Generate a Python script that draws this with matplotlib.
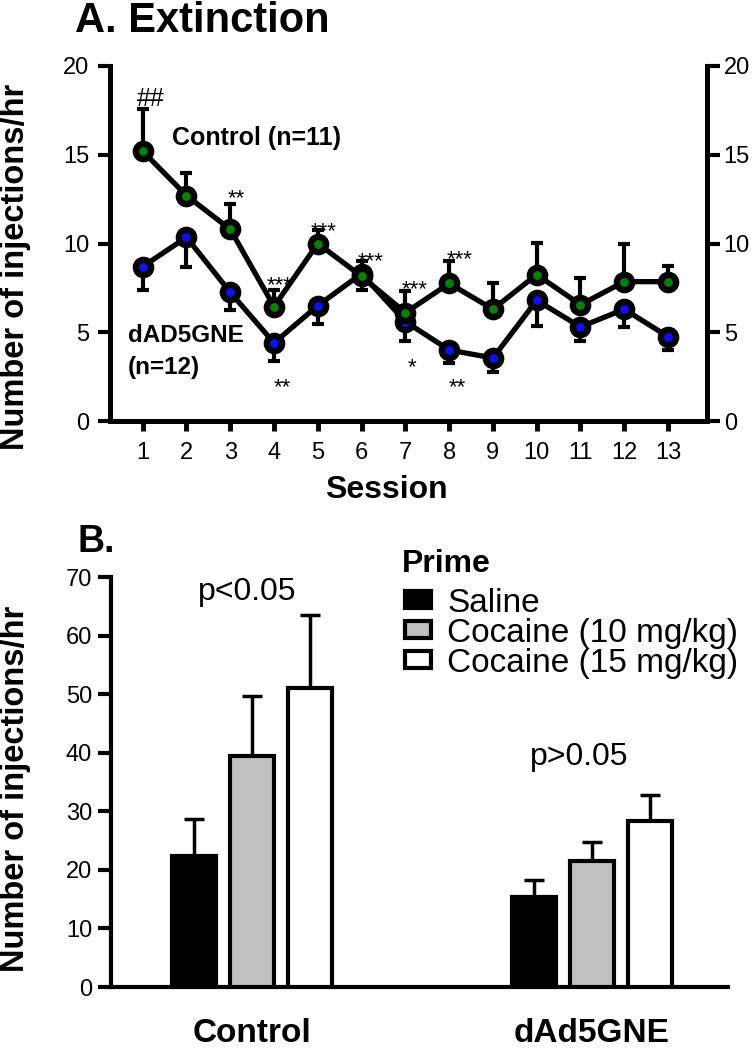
import numpy as np
import matplotlib
matplotlib.use("Agg")
import matplotlib.pyplot as plt
from matplotlib.patches import Rectangle

plt.rcParams['font.family'] = ['Liberation Sans', 'DejaVu Sans']

# ---- Panel A data: extinction sessions ----
sessions = list(range(1, 14))
control_mean = [15.2, 12.7, 10.8, 6.45, 10.0, 8.15, 6.1, 7.75, 6.3, 8.25, 6.55, 7.85, 7.85]
control_sem = [2.4, 1.3, 1.45, 0.95, 0.75, 0.85, 1.25, 1.25, 1.45, 1.8, 1.5, 2.15, 0.9]
dad_mean = [8.7, 10.35, 7.25, 4.4, 6.5, 8.3, 5.6, 4.0, 3.55, 6.8, 5.3, 6.3, 4.75]
dad_sem = [1.3, 1.7, 1.0, 1.0, 1.05, 0.9, 1.1, 0.75, 0.8, 1.45, 0.8, 1.0, 0.75]

# significance marks (session position, y value, text)
star_x = [3.15, 4.13, 5.13, 6.2, 7.22, 8.24, 7.16, 8.19, 4.2]
star_y = [12.19, 7.32, 10.37, 8.68, 7.06, 8.77, 2.7, 1.58, 1.54]
star_txt = ['**', '***', '***', '***', '***', '***', '*', '**', '**']

# ---- Panel B data: reinstatement ----
groups = ['Control', 'dAd5GNE']
primes = ['Saline', 'Cocaine (10 mg/kg)', 'Cocaine (15 mg/kg)']
saline_mean = [22.4, 15.4]
saline_sem = [6.2, 2.9]
coc10_mean = [39.5, 21.5]
coc10_sem = [10.1, 3.3]
coc15_mean = [51.0, 28.4]
coc15_sem = [12.5, 4.3]
p_labels = ['p<0.05', 'p>0.05']
p_y = [66.1, 37.85]

W, H = 753, 1050
fig = plt.figure(figsize=(W / 100, H / 100), dpi=100)


def rect(x0, y0, x1, y1):
    # pixel box -> figure fraction
    return [x0 / W, 1 - y1 / H, (x1 - x0) / W, (y1 - y0) / H]


# ================= Panel A =================
ax = fig.add_axes(rect(110, 66, 707, 421))
lw_sp = 3.6
ax.errorbar(sessions, dad_mean, yerr=[dad_sem, [0] * 13], fmt='none',
            ecolor='black', elinewidth=3, capsize=4.3, capthick=3, zorder=2)
ax.plot(sessions, dad_mean, color='black', lw=3.8, marker='o', ms=11,
        mfc='#1010ee', mec='black', mew=4.6, zorder=3)
ax.errorbar(sessions, control_mean, yerr=[[0] * 13, control_sem], fmt='none',
            ecolor='black', elinewidth=3, capsize=4.3, capthick=3, zorder=4)
ax.plot(sessions, control_mean, color='black', lw=3.8, marker='o', ms=11,
        mfc='#0a7d0a', mec='black', mew=4.6, zorder=5)

ax.set_xlim(0.253, 13.89)
ax.set_ylim(0, 20)
ax.set_xticks(sessions)
ax.set_yticks([0, 5, 10, 15, 20])
ax.tick_params(axis='x', direction='out', length=7, width=3.5, pad=8, labelsize=17)
ax.tick_params(axis='y', direction='out', length=9, width=3, pad=6, labelsize=17)
for s in ['top', 'right']:
    ax.spines[s].set_visible(False)
for s in ['left', 'bottom']:
    ax.spines[s].set_linewidth(lw_sp)

ax2 = ax.twinx()
ax2.set_ylim(0, 20)
ax2.set_yticks([0, 5, 10, 15, 20])
ax2.tick_params(axis='y', direction='out', length=9, width=3, pad=3, labelsize=17)
for s in ['top', 'left', 'bottom']:
    ax2.spines[s].set_visible(False)
ax2.spines['right'].set_linewidth(lw_sp)

for x, y, t in zip(star_x, star_y, star_txt):
    ax.text(x, y, t, fontsize=16, ha='center', va='baseline', zorder=6)
ax.text(1.18, 17.76, '##', fontsize=18, ha='center', va='baseline')
ax.text(3.61, 15.55, 'Control (n=11)', fontsize=18, fontweight='bold',
        ha='center', va='baseline')
ax.text(0.664, 4.45, 'dAD5GNE', fontsize=17.5, fontweight='bold',
        ha='left', va='baseline')
ax.text(0.664, 2.62, '(n=12)', fontsize=17.5, fontweight='bold',
        ha='left', va='baseline')

fig.text(75 / W, 1 - 32 / H, 'A. Extinction', fontsize=30, fontweight='bold',
         ha='left', va='baseline')
fig.text(386.5 / W, 1 - 498 / H, 'Session', fontsize=23, fontweight='bold',
         ha='center', va='baseline')
fig.text(16 / W, 1 - 267 / H, 'Number of injections/hr', fontsize=23.5,
         fontweight='bold', rotation=90, ha='center', va='center')

# ================= Panel B =================
bx = fig.add_axes(rect(111, 577, 728, 987))
centers = np.arange(len(groups))
offsets = [-0.1706, 0.0, 0.1706]
bw = 0.132
means = [saline_mean, coc10_mean, coc15_mean]
sems = [saline_sem, coc10_sem, coc15_sem]
fills = ['black', '#c0c0c0', 'white']
for i in range(3):
    xs = centers + offsets[i]
    bx.errorbar(xs, means[i], yerr=[[0, 0], sems[i]], fmt='none', ecolor='black',
                elinewidth=2.5, capsize=7, capthick=2.5, zorder=2)
    bx.bar(xs, means[i], width=bw, color=fills[i], edgecolor='black',
           linewidth=3, zorder=3, label=primes[i])

bx.set_xlim(-0.4147, 1.4)
bx.set_ylim(0, 70)
bx.set_yticks(range(0, 71, 10))
bx.set_xticks(centers)
bx.set_xticklabels(groups, fontsize=24, fontweight='bold')
bx.tick_params(axis='x', length=0, pad=22)
bx.tick_params(axis='y', direction='out', length=9.5, width=3, pad=4, labelsize=17)
for s in ['top', 'right']:
    bx.spines[s].set_visible(False)
for s in ['left', 'bottom']:
    bx.spines[s].set_linewidth(3)

p_dx = [-0.015, -0.038]
for x, dx, y, t in zip(centers, p_dx, p_y, p_labels):
    bx.text(x + dx, y, t, fontsize=23, ha='center', va='baseline')

# legend, laid out by hand (pixel positions)
fig.text(402 / W, 1 - 572 / H, 'Prime', fontsize=23, fontweight='bold',
         ha='left', va='baseline')
row_base = [612, 642, 672]
for i in range(3):
    yb = row_base[i]
    fig.add_artist(Rectangle(((405) / W, 1 - (yb - 4) / H), 26 / W, 17 / H,
                             transform=fig.transFigure, facecolor=fills[i],
                             edgecolor='black', linewidth=3))
    fig.text(447 / W, 1 - yb / H, primes[i], fontsize=24, ha='left', va='baseline')

fig.text(77 / W, 1 - 552 / H, 'B.', fontsize=27, fontweight='bold',
         ha='left', va='baseline')
fig.text(16 / W, 1 - 789 / H, 'Number of injections/hr', fontsize=23.5,
         fontweight='bold', rotation=90, ha='center', va='center')

fig.savefig('out.png', dpi=100)
